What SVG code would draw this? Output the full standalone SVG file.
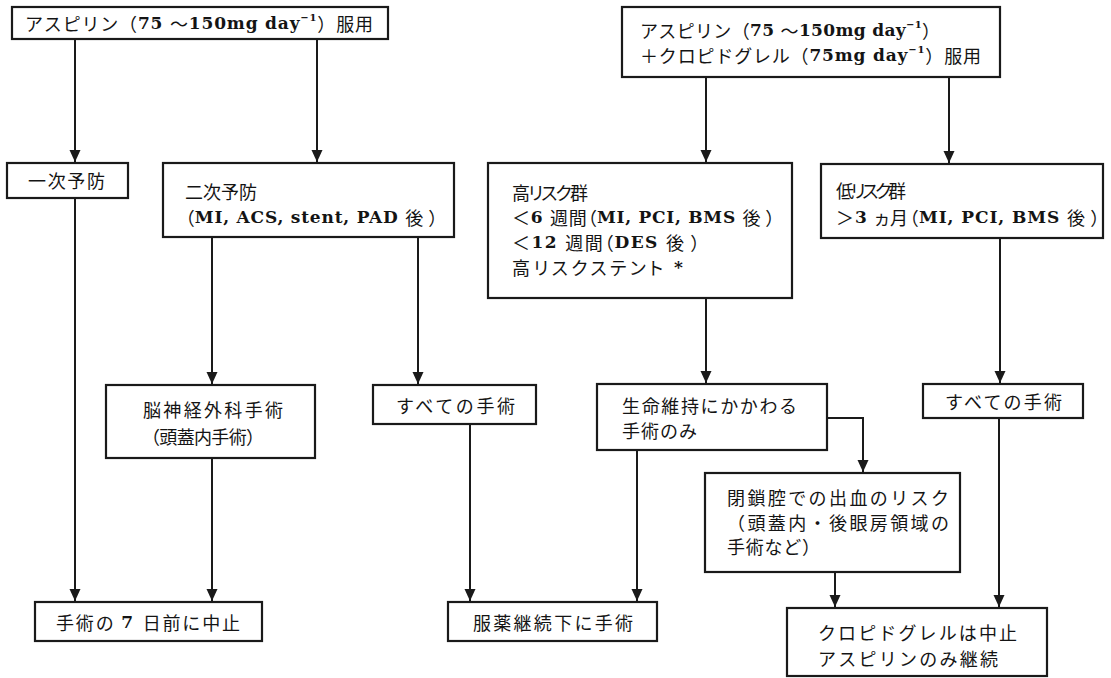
<svg xmlns="http://www.w3.org/2000/svg" width="1111" height="678" viewBox="0 0 1111 678">
<style>
.box{fill:#fff;stroke:#1a1a1a;stroke-width:2.2}
.t{font-family:"Noto Sans CJK JP","Noto Sans",sans-serif;font-size:18px;fill:#141414;dominant-baseline:central}
.p{font-feature-settings:"palt"}
.b{font-family:"DejaVu Serif","Liberation Serif",serif;font-weight:bold;font-size:17px}
.sup{font-size:10px}
.c{fill:none;stroke:#1a1a1a;stroke-width:2}
</style>
<defs>
<marker id="a" viewBox="0 0 12 12" refX="12" refY="6" markerWidth="12" markerHeight="12" markerUnits="userSpaceOnUse" orient="auto">
<path d="M0,0.5 L12,6 L0,11.5 z" fill="#1a1a1a"/>
</marker>
</defs>
<rect width="1111" height="678" fill="#fff"/>
<g id="connectors">
<path class="c" d="M75,39 V162" marker-end="url(#a)"/>
<path class="c" d="M317,39 V162" marker-end="url(#a)"/>
<path class="c" d="M706,77 V162" marker-end="url(#a)"/>
<path class="c" d="M949,77 V163" marker-end="url(#a)"/>
<path class="c" d="M75,198 V601" marker-end="url(#a)"/>
<path class="c" d="M212,237 V384" marker-end="url(#a)"/>
<path class="c" d="M418,237 V384" marker-end="url(#a)"/>
<path class="c" d="M212,458 V601" marker-end="url(#a)"/>
<path class="c" d="M470,424 V601" marker-end="url(#a)"/>
<path class="c" d="M706,298 V383" marker-end="url(#a)"/>
<path class="c" d="M637,450 V601" marker-end="url(#a)"/>
<path class="c" d="M827,418 H863 V472" marker-end="url(#a)"/>
<path class="c" d="M1000,238 V383" marker-end="url(#a)"/>
<path class="c" d="M999,418 V607" marker-end="url(#a)"/>
<path class="c" d="M835,572 V607" marker-end="url(#a)"/>
</g>
<g id="n1">
<rect class="box" x="12" y="7" width="376" height="32"/>
<text class="t" x="25" y="23" textLength="348">アスピリン（<tspan class="b">75 </tspan>～<tspan class="b">150mg day</tspan><tspan class="b sup" dy="-6">−1</tspan><tspan dy="6">）服用</tspan></text>
</g>
<g id="n2">
<rect class="box" x="622" y="7" width="378" height="70"/>
<text class="t" x="640" y="30" textLength="300">アスピリン（<tspan class="b">75 </tspan>～<tspan class="b">150mg day</tspan><tspan class="b sup" dy="-6">−1</tspan><tspan dy="6">）</tspan></text>
<text class="t" x="640" y="55" textLength="341">＋クロピドグレル（<tspan class="b">75mg day</tspan><tspan class="b sup" dy="-6">−1</tspan><tspan dy="6">）服用</tspan></text>
</g>
<g id="n3">
<rect class="box" x="7" y="163" width="121" height="35"/>
<text class="t" x="28" y="180" textLength="77">一次予防</text>
</g>
<g id="n4">
<rect class="box" x="163" y="163" width="291" height="74"/>
<text class="t" x="185" y="191" textLength="72">二次予防</text>
<text class="t p" x="185" y="217" textLength="253">（<tspan class="b">MI, ACS, stent, PAD </tspan>後 ）</text>
</g>
<g id="n5">
<rect class="box" x="488" y="163" width="304" height="135"/>
<text class="t p" x="512" y="192" textLength="76">高リスク群</text>
<text class="t p" x="512" y="217" textLength="263">＜<tspan class="b">6 </tspan>週間（<tspan class="b">MI, PCI, BMS </tspan>後 ）</text>
<text class="t p" x="512" y="242" textLength="188">＜<tspan class="b">12 </tspan>週間（<tspan class="b">DES </tspan>後 ）</text>
<text class="t p" x="512" y="267" textLength="171">高リスクステント <tspan class="b">*</tspan></text>
</g>
<g id="n6">
<rect class="box" x="821" y="164" width="282" height="74"/>
<text class="t p" x="836" y="190" textLength="70">低リスク群</text>
<text class="t p" x="836" y="217" textLength="264">＞<tspan class="b">3 </tspan>ヵ月（<tspan class="b">MI, PCI, BMS </tspan>後 ）</text>
</g>
<g id="n7">
<rect class="box" x="106" y="385" width="209" height="73"/>
<text class="t" x="143" y="409" textLength="140">脳神経外科手術</text>
<text class="t" x="142" y="436" textLength="122">（頭蓋内手術）</text>
</g>
<g id="n8">
<rect class="box" x="373" y="385" width="163" height="39"/>
<text class="t" x="396" y="405" textLength="119">すべての手術</text>
</g>
<g id="n9">
<rect class="box" x="597" y="384" width="230" height="66"/>
<text class="t" x="622" y="405" textLength="175">生命維持にかかわる</text>
<text class="t" x="622" y="430" textLength="75">手術のみ</text>
</g>
<g id="n10">
<rect class="box" x="923" y="384" width="160" height="34"/>
<text class="t" x="945" y="401" textLength="117">すべての手術</text>
</g>
<g id="n11">
<rect class="box" x="705" y="473" width="255" height="99"/>
<text class="t" x="727" y="497" textLength="222">閉鎖腔での出血のリスク</text>
<text class="t" x="727" y="522" textLength="222">（頭蓋内・後眼房領域の</text>
<text class="t" x="727" y="546" textLength="93">手術など）</text>
</g>
<g id="n12">
<rect class="box" x="35" y="602" width="227" height="39"/>
<text class="t" x="56" y="622" textLength="184">手術の <tspan class="b">7 </tspan>日前に中止</text>
</g>
<g id="n13">
<rect class="box" x="448" y="602" width="209" height="39"/>
<text class="t" x="473" y="622" textLength="160">服薬継続下に手術</text>
</g>
<g id="n14">
<rect class="box" x="787" y="608" width="260" height="68"/>
<text class="t" x="818" y="632" textLength="199">クロピドグレルは中止</text>
<text class="t" x="818" y="658" textLength="180">アスピリンのみ継続</text>
</g>
</svg>
